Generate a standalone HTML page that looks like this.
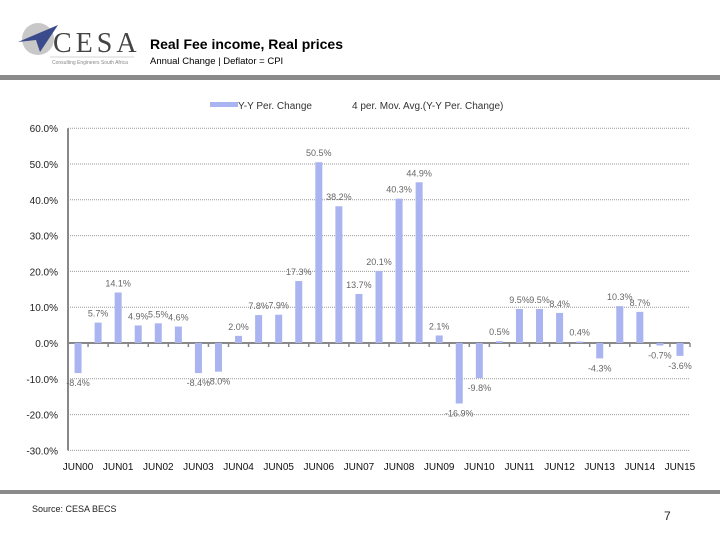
<!DOCTYPE html>
<html><head><meta charset="utf-8">
<style>
body{margin:0;width:720px;height:540px;background:#fff;overflow:hidden;font-family:"Liberation Sans",sans-serif;}
svg{position:absolute;left:0;top:0;}
</style></head>
<body>
<svg width="720" height="540" viewBox="0 0 720 540">
  <g>
    <circle cx="38" cy="39" r="16" fill="#c8c8c8"/>
    <polygon points="18,42 58,25 40,52 36,40" fill="#3a4a8a"/>
    <text x="53" y="52" font-family="Liberation Serif, serif" font-size="28" fill="#444" letter-spacing="4">CESA</text>
    <line x1="50" y1="57" x2="134" y2="57" stroke="#aaa" stroke-width="0.6"/>
    <text x="52" y="64" font-size="5" fill="#888">Consulting Engineers South Africa</text>
  </g>
  <text x="150" y="49" font-size="14" font-weight="bold" fill="#000">Real Fee income, Real prices</text>
  <text x="150" y="64" font-size="9.5" fill="#000">Annual Change | Deflator = CPI</text>
  <rect x="0" y="75" width="720" height="5" fill="#8a8a8a"/>
  <g>
    <rect x="210" y="102" width="28" height="5" fill="#aab4f0"/>
    <text x="238" y="109" font-size="10" fill="#333">Y-Y Per. Change</text>
    <text x="352" y="109" font-size="10" fill="#333">4 per. Mov. Avg.(Y-Y Per. Change)</text>
  </g>
  <g id="plot"></g>
  <rect x="0" y="490" width="720" height="4" fill="#8a8a8a"/>
  <text x="32" y="512" font-size="9" fill="#222">Source: CESA BECS</text>
  <text x="664" y="520" font-size="12" fill="#222">7</text>
</svg>
<script>
const values=[-8.4,5.7,14.1,4.9,5.5,4.6,-8.4,-8.0,2.0,7.8,7.9,17.3,50.5,38.2,13.7,20.1,40.3,44.9,2.1,-16.9,-9.8,0.5,9.5,9.5,8.4,0.4,-4.3,10.3,8.7,-0.7,-3.6];
const yTicks=[60,50,40,30,20,10,0,-10,-20,-30];
const xLabels=["JUN00","JUN01","JUN02","JUN03","JUN04","JUN05","JUN06","JUN07","JUN08","JUN09","JUN10","JUN11","JUN12","JUN13","JUN14","JUN15"];
const NS="http://www.w3.org/2000/svg";
const g=document.getElementById('plot');
const L=68,R=690,zeroY=343,pxPer=3.58;
const y=v=>zeroY-v*pxPer;
const step=(R-L)/values.length;
const x=i=>L+step*(i+0.5);
function mk(t,a){const e=document.createElementNS(NS,t);for(const k in a)e.setAttribute(k,a[k]);g.appendChild(e);return e;}
yTicks.forEach(t=>{
  const gl=mk('line',{x1:L,x2:R,y1:y(t),y2:y(t),stroke:'#999','stroke-width':1,'stroke-dasharray':t===0?'':'1,1'});
  
  
  const tl=mk('text',{x:L-10,y:y(t)+4,'font-size':10,'text-anchor':'end',fill:'#222'});
  tl.textContent=t.toFixed(1)+'%';
  
  
});
const ax=mk('line',{x1:L,x2:L,y1:y(60),y2:y(-30),stroke:'#888','stroke-width':2});


const zx=mk('line',{x1:L,x2:R,y1:zeroY,y2:zeroY,stroke:'#888','stroke-width':2});


for(let i=0;i<=values.length;i++){
  const tk=mk('line',{x1:L+step*i,x2:L+step*i,y1:zeroY,y2:zeroY+4,stroke:'#888','stroke-width':1.5});
  
  
}
values.forEach((v,i)=>{
  const top=Math.min(y(v),zeroY),h=Math.abs(y(v)-zeroY);
  const b=mk('rect',{x:x(i)-3.5,y:top,width:7,height:Math.max(h,0.5),fill:'#aab4f0'});
  
  
  const lb=mk('text',{x:x(i),y:v>=0?y(v)-6:y(v)+13,'font-size':9,'text-anchor':'middle',fill:'#666'});
  lb.textContent=v.toFixed(1)+'%';
  
  
});
xLabels.forEach((s,j)=>{
  const t=mk('text',{x:x(j*2),y:470,'font-size':10,'text-anchor':'middle',fill:'#111'});
  t.textContent=s;
  
  
});
</script>
</body></html>
